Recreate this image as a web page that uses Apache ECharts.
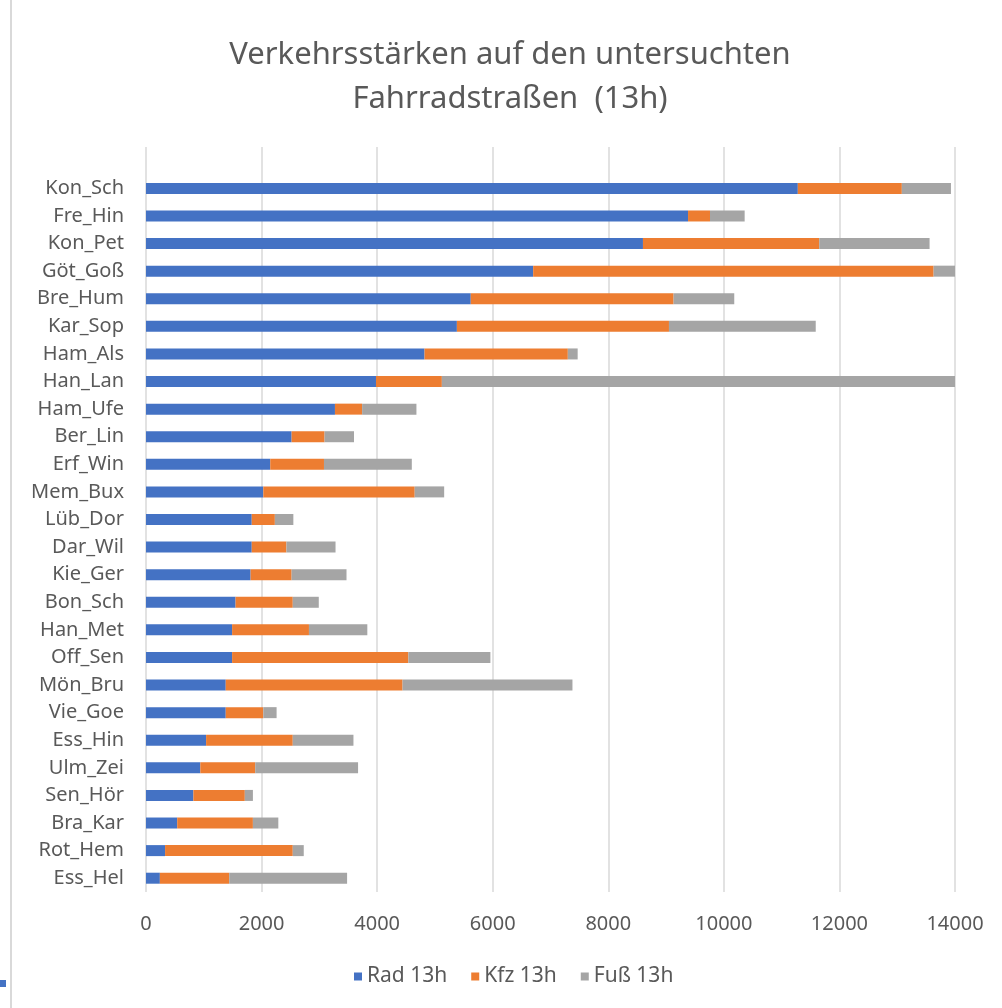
<!DOCTYPE html>
<html>
<head>
<meta charset="utf-8">
<script src="https://cdn.jsdelivr.net/npm/echarts@6/dist/echarts.min.js"></script>
<style>
  html, body { margin: 0; padding: 0; background: #fff; }
  #chart { width: 1002px; height: 1008px; }
</style>
</head>
<body>
<div id="chart"></div>
<script>
// top row is an empty category (Excel leaves a blank slot above Kon_Sch)
const streets = ['', 'Kon_Sch', 'Fre_Hin', 'Kon_Pet', 'Göt_Goß', 'Bre_Hum', 'Kar_Sop', 'Ham_Als', 'Han_Lan',
  'Ham_Ufe', 'Ber_Lin', 'Erf_Win', 'Mem_Bux', 'Lüb_Dor', 'Dar_Wil', 'Kie_Ger', 'Bon_Sch', 'Han_Met',
  'Off_Sen', 'Mön_Bru', 'Vie_Goe', 'Ess_Hin', 'Ulm_Zei', 'Sen_Hör', 'Bra_Kar', 'Rot_Hem', 'Ess_Hel'];
const rad = [null, 11280, 9380, 8600, 6700, 5620, 5380, 4820, 3980, 3270, 2520, 2150, 2030, 1830, 1830,
  1810, 1550, 1490, 1490, 1380, 1380, 1040, 940, 820, 540, 330, 240];
const kfz = [null, 1800, 380, 3050, 6930, 3510, 3670, 2480, 1140, 470, 570, 930, 2620, 400, 600,
  710, 990, 1330, 3050, 3060, 650, 1500, 950, 890, 1310, 2210, 1200];
const fuss = [null, 850, 600, 1910, 400, 1050, 2540, 170, 9000, 940, 510, 1520, 510, 320, 850,
  950, 450, 1010, 1420, 2940, 230, 1050, 1780, 140, 440, 190, 2040];
const xTicks = [0, 2000, 4000, 6000, 8000, 10000, 12000, 14000];

const chart = echarts.init(document.getElementById('chart'));
const font = 'Noto Sans';
const grey = '#595959';

const option = {
  backgroundColor: '#fff',
  color: ['#4472C4', '#ED7D31', '#A5A5A5'],
  title: {
    text: 'Verkehrsstärken auf den untersuchten\nFahrradstraßen  (13h)',
    left: 505,
    textAlign: 'center',
    top: 28,
    textStyle: { fontFamily: font, fontSize: 31, fontWeight: 'normal', color: grey, lineHeight: 44 }
  },
  legend: {
    data: ['Rad 13h', 'Kfz 13h', 'Fuß 13h'],
    left: 354,
    top: 966,
    padding: 0,
    icon: 'rect',
    itemWidth: 8,
    itemHeight: 8,
    itemGap: 24,
    textStyle: { fontFamily: font, fontSize: 21, color: grey }
  },
  grid: { left: 146, right: 47, top: 147, bottom: 116, containLabel: false },
  xAxis: {
    type: 'value',
    min: xTicks[0],
    max: xTicks[xTicks.length - 1],
    interval: 2000,
    axisLine: { show: false },
    axisTick: { show: false },
    axisLabel: { fontFamily: font, fontSize: 20, color: grey, margin: 22, formatter: v => String(v) },
    splitLine: { lineStyle: { color: '#D9D9D9', width: 1.5 } }
  },
  yAxis: {
    type: 'category',
    data: streets,
    inverse: true,
    axisLine: { show: false },
    axisTick: { show: false },
    axisLabel: { fontFamily: font, fontSize: 20, color: grey, margin: 22, interval: 0 }
  },
  series: [
    { name: 'Rad 13h', type: 'bar', stack: 'total', data: rad, barWidth: 11 },
    { name: 'Kfz 13h', type: 'bar', stack: 'total', data: kfz, barWidth: 11 },
    { name: 'Fuß 13h', type: 'bar', stack: 'total', data: fuss, barWidth: 11 }
  ],
  graphic: [
    { type: 'line', shape: { x1: 11, y1: 0, x2: 11, y2: 1008 }, style: { stroke: '#D9D9D9', lineWidth: 2 } },
    { type: 'rect', shape: { x: 0, y: 980, width: 6, height: 7 }, style: { fill: '#4472C4' } }
  ]
};

chart.setOption(option);
</script>
</body>
</html>
